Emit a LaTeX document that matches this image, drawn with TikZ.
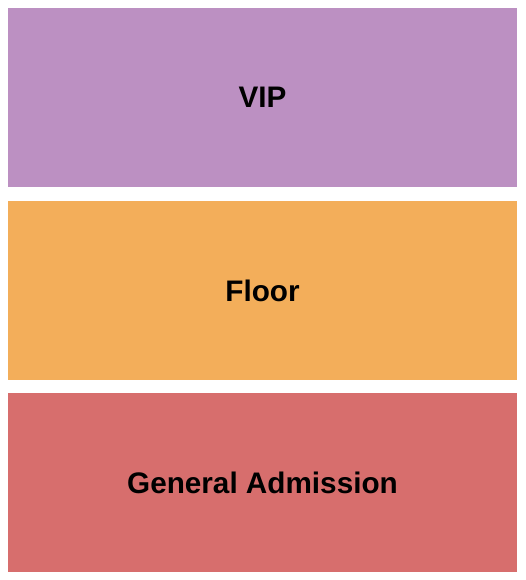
\documentclass[tikz,border=0pt]{standalone}
\usepackage{fontspec}
\setmainfont{Liberation Sans}
\begin{document}
\begin{tikzpicture}[x=1pt,y=-1pt]
  % colors
  \definecolor{kVip}{HTML}{BC90C2}
  \definecolor{kFloor}{HTML}{F3AE5A}
  \definecolor{kGen}{HTML}{D76E6D}
  \tikzset{section/.style={fill,draw=none},
    sectionlabel/.style={font=\fontsize{29.7}{34}\selectfont\bfseries,text=black}}
  % frame
  \useasboundingbox (0,0) rectangle (525,580);
  % sections
  \fill[section,color=kVip] (8,8) rectangle (517,187);
  \fill[section,color=kFloor] (8,201) rectangle (517,380);
  \fill[section,color=kGen] (8,393) rectangle (517,572);
  % labels
  \node[sectionlabel] (vip) at (262.5,97.5) {VIP};
  \node[sectionlabel] (floor) at (262.5,290.5) {Floor};
  \node[sectionlabel] (gen) at (262.5,482.5) {General Admission};
\end{tikzpicture}
\end{document}
